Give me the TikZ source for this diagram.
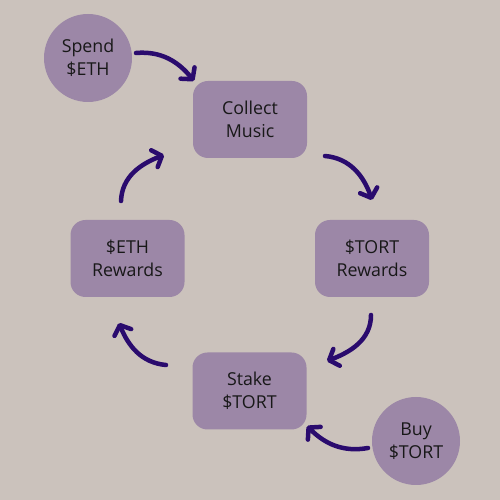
\documentclass[tikz,border=0pt]{standalone}
\usepackage{fontspec}
\setmainfont{Open Sans}
\usetikzlibrary{arrows.meta,calc}
\definecolor{bg}{HTML}{CBC2BC}
\definecolor{nodefill}{HTML}{9C87A7}
\definecolor{arrowc}{HTML}{2A0B6E}
\definecolor{txt}{HTML}{181818}
\begin{document}
\begin{tikzpicture}[x=1pt,y=1pt,
  box/.style={rounded corners=15pt, fill=nodefill, minimum width=114pt, minimum height=77pt, inner sep=0pt, align=center, text=txt, font=\fontsize{17.8pt}{23.5pt}\selectfont},
  disc/.style={circle, fill=nodefill, minimum size=88pt, inner sep=0pt, align=center, text=txt, font=\fontsize{17.8pt}{23.5pt}\selectfont},
  flow/.style={draw=arrowc, line width=4.5pt, line cap=round, -{Straight Barb[length=8pt,width=18pt,round]}}]
\fill[bg] (0,0) rectangle (500,500);
\useasboundingbox (0,0) rectangle (500,500);
\node[disc] (spend) at (88,442) {Spend\\\$ETH};
\node[box] (collect) at (250,380.5) {Collect\\Music};
\node[box] (tort) at (372,241.5) {\$TORT\\Rewards};
\node[box] (eth) at (127.5,241.5) {\$ETH\\Rewards};
\node[box] (stake) at (249.5,109) {Stake\\\$TORT};
\node[disc] (buy) at (416,59) {Buy\\\$TORT};
\draw[flow] ($(spend.center)+(48,5)$) to[out=5,in=129] ($(collect.center)+(-56,38.5)$);
\draw[flow] ($(collect.center)+(75,-36.5)$) to[out=-5,in=109] ($(tort.center)+(0,58.5)$);
\draw[flow] ($(tort.center)+(-1,-56.5)$) to[out=-90,in=21] ($(stake.center)+(77.5,30)$);
\draw[flow] ($(buy.center)+(-48,-7)$) to[out=190,in=-45] ($(stake.center)+(57.5,-35)$);
\draw[flow] ($(stake.center)+(-83.5,26)$) to[out=175,in=-68] ($(eth.center)+(-8.5,-64.5)$);
\draw[flow] ($(eth.center)+(-6.5,57.5)$) to[out=88,in=201] ($(collect.center)+(-86,-35.5)$);
\end{tikzpicture}
\end{document}
